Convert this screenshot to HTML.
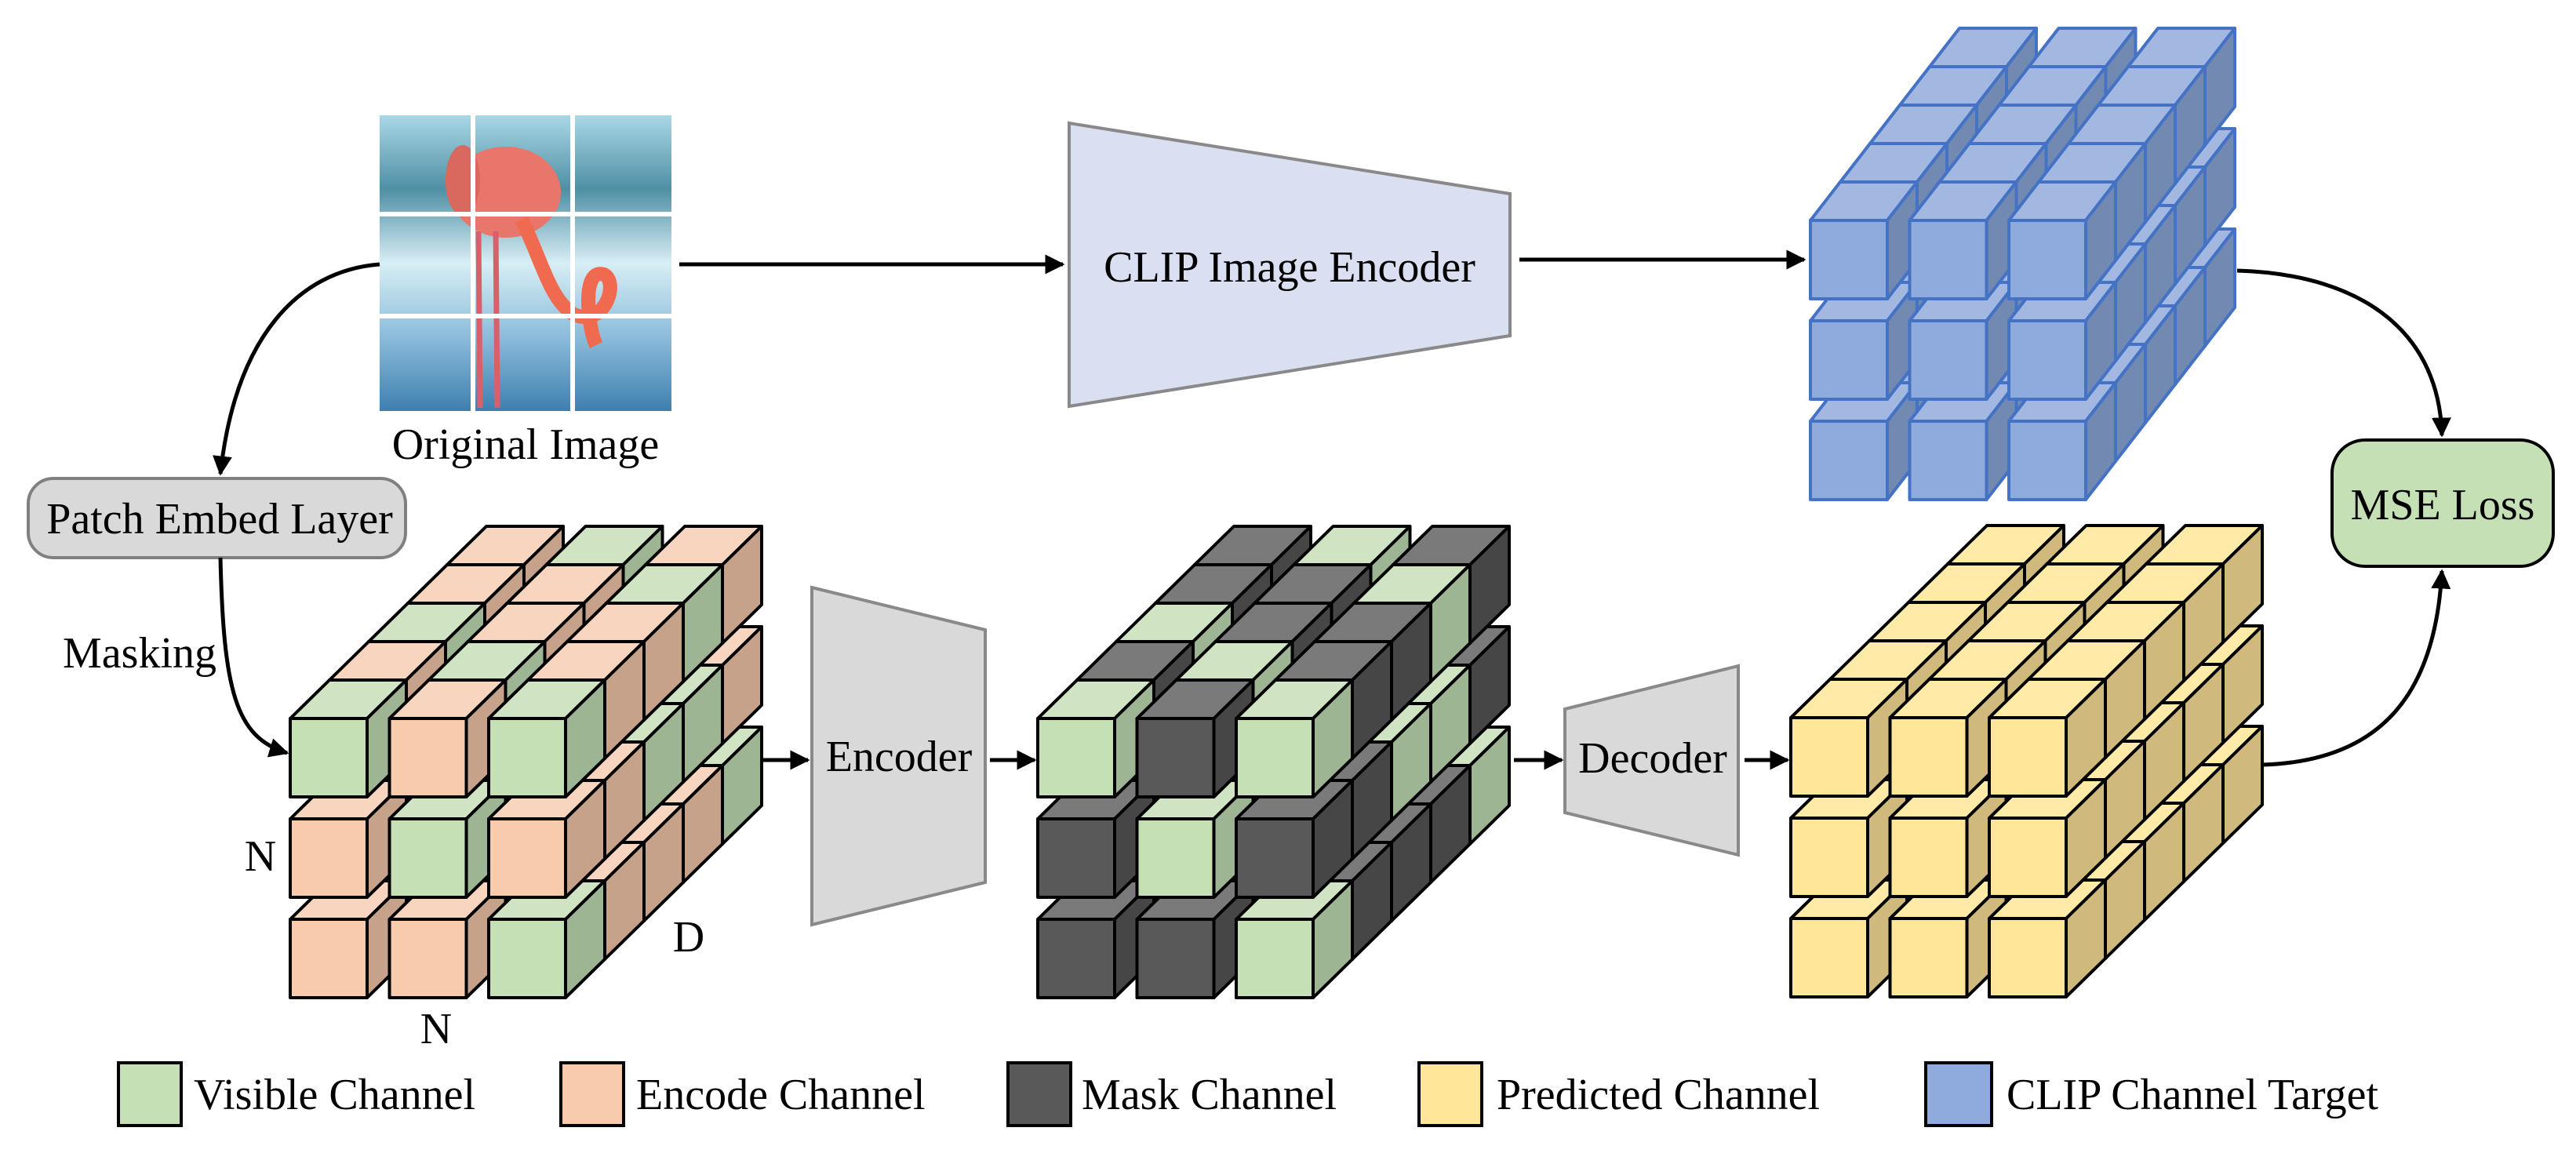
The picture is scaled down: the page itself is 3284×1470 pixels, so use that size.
<!DOCTYPE html>
<html><head><meta charset="utf-8">
<style>
html,body{margin:0;padding:0;background:#fff;}
svg{display:block;}
text{font-family:"Liberation Serif","DejaVu Serif",serif;fill:#000;}
</style></head>
<body>
<svg id="s" width="3284" height="1470" viewBox="0 0 3284 1470" xmlns="http://www.w3.org/2000/svg">
<defs>
<marker id="ah" viewBox="0 0 10 10" refX="9" refY="5" markerWidth="5" markerHeight="5" orient="auto" markerUnits="strokeWidth">
<path d="M0,0 L10,5 L0,10 z" fill="#000"/></marker>
<linearGradient id="water" x1="0" y1="0" x2="0" y2="1">
<stop offset="0" stop-color="#a9d8e6"/><stop offset="0.25" stop-color="#4f8fa5"/><stop offset="0.5" stop-color="#d8eef5"/><stop offset="0.75" stop-color="#8bbcda"/><stop offset="1" stop-color="#3f7fb0"/></linearGradient>
</defs>

<!-- Original image -->
<g>
<rect x="484" y="147" width="372" height="377" fill="url(#water)"/>
<ellipse cx="645" cy="245" rx="70" ry="58" fill="#e8766a"/>
<ellipse cx="590" cy="230" rx="22" ry="45" fill="#d9685e"/>
<path d="M610,295 L612,520 M632,295 L634,520" stroke="#d9606a" stroke-width="7"/>
<path d="M665,280 C690,330 700,380 730,400 C770,420 790,360 770,350 C740,340 750,420 760,440" stroke="#f06a50" stroke-width="18" fill="none"/>
<rect x="600" y="147" width="6" height="377" fill="#fff"/>
<rect x="727" y="147" width="6" height="377" fill="#fff"/>
<rect x="484" y="270" width="372" height="6" fill="#fff"/>
<rect x="484" y="400" width="372" height="6" fill="#fff"/>
</g>
<text x="670" y="585" font-size="56" text-anchor="middle">Original Image</text>

<!-- Patch Embed -->
<rect x="36" y="610" width="481" height="101" rx="32" fill="#d9d9d9" stroke="#808080" stroke-width="4"/>
<text x="280" y="680" font-size="56" text-anchor="middle">Patch Embed Layer</text>
<text x="178" y="851" font-size="56" text-anchor="middle">Masking</text>

<!-- connectors -->
<g stroke="#000" stroke-width="5" fill="none">
<path d="M484,337 C380,345 300,430 281,604" marker-end="url(#ah)"/>
<path d="M281,711 C285,880 300,940 366,960" marker-end="url(#ah)"/>
<path d="M866,337 L1355,337" marker-end="url(#ah)"/>
<path d="M1937,331 L2300,331" marker-end="url(#ah)"/>
<path d="M971,969 L1030,969" marker-end="url(#ah)"/>
<path d="M1262,969 L1319,969" marker-end="url(#ah)"/>
<path d="M1930,969 L1991,969" marker-end="url(#ah)"/>
<path d="M2224,969 L2279,969" marker-end="url(#ah)"/>
<path d="M2852,345 C3020,350 3110,430 3113,555" marker-end="url(#ah)"/>
<path d="M2885,975 C3040,970 3105,880 3113,728" marker-end="url(#ah)"/>
</g>

<!-- CLIP encoder -->
<polygon points="1363,157 1925,247 1925,428 1363,518" fill="#dae0f1" stroke="#898989" stroke-width="4"/>
<text x="1644" y="359" font-size="56" text-anchor="middle">CLIP Image Encoder</text>

<!-- Encoder -->
<polygon points="1035,749 1256,803 1256,1125 1035,1179" fill="#d9d9d9" stroke="#898989" stroke-width="4"/>
<text x="1146" y="983" font-size="56" text-anchor="middle">Encoder</text>

<!-- Decoder -->
<polygon points="1995,904 2216,849 2216,1090 1995,1036" fill="#d9d9d9" stroke="#898989" stroke-width="4"/>
<text x="2107" y="985" font-size="56" text-anchor="middle">Decoder</text>

<!-- MSE -->
<rect x="2973" y="561" width="282" height="161" rx="42" fill="#c5e0b4" stroke="#000" stroke-width="4"/>
<text x="3114" y="662" font-size="56" text-anchor="middle">MSE Loss</text>

<g id="cubes"></g>

<text x="332" y="1110" font-size="56" text-anchor="middle">N</text>
<text x="556" y="1330" font-size="56" text-anchor="middle">N</text>
<text x="878" y="1213" font-size="56" text-anchor="middle">D</text>

<!-- Legend -->
<g stroke="#000" stroke-width="4">
<rect x="151" y="1355" width="80" height="80" fill="#c5e0b4"/>
<rect x="715" y="1355" width="80" height="80" fill="#f8cbad"/>
<rect x="1285" y="1355" width="80" height="80" fill="#595959"/>
<rect x="1809" y="1355" width="80" height="80" fill="#ffe699"/>
<rect x="2455" y="1355" width="84" height="80" fill="#8faadc"/>
</g>
<g font-size="56">
<text x="247" y="1414">Visible Channel</text>
<text x="811" y="1414">Encode Channel</text>
<text x="1379" y="1414">Mask Channel</text>
<text x="1908" y="1414">Predicted Channel</text>
<text x="2558" y="1414">CLIP Channel Target</text>
</g>
</svg>
<script>
(function(){
var C={g:['#c5e0b4','#d0e4c4','#9db593','#000'],
o:['#f8cbad','#f8d5bf','#c7a28a','#000'],
m:['#595959','#7a7a7a','#464646','#000'],
y:['#ffe699','#ffeaa8','#cfb97c','#000'],
b:['#8faadc','#a3b8e1','#7289b1','#4472c4']};
var P=[
[['g','o','g'],['o','g','o'],['o','o','g']],
[['o','g','o'],['g','o','o'],['o','g','o']],
[['g','o','o'],['o','g','g'],['g','o','o']],
[['o','o','g'],['g','o','g'],['o','g','o']],
[['o','g','o'],['o','g','o'],['g','o','g']]];
var g=document.getElementById('cubes'),NS='http://www.w3.org/2000/svg';
function poly(pts,f,s){var p=document.createElementNS(NS,'polygon');p.setAttribute('points',pts.map(function(a){return a[0].toFixed(1)+','+a[1].toFixed(1)}).join(' '));p.setAttribute('fill',f);p.setAttribute('stroke',s);p.setAttribute('stroke-width','4');p.setAttribute('stroke-linejoin','round');g.appendChild(p);}
function cube(x,y,c,dx){var w=98,h=100,dy=-49,k=C[c];
poly([[x,y],[x+dx,y+dy],[x+w+dx,y+dy],[x+w,y]],k[1],k[3]);
poly([[x+w,y],[x+w+dx,y+dy],[x+w+dx,y+h+dy],[x+w,y+h]],k[2],k[3]);
poly([[x,y],[x+w,y],[x+w,y+h],[x,y+h]],k[0],k[3]);}
function block(x0,y0,map,dx){
for(var l=4;l>=0;l--)for(var r=2;r>=0;r--)for(var c=0;c<3;c++){
var t=P[l][r][c];var col=map(t);
cube(x0+c*126.5+l*dx,y0+r*128-l*49,col,dx);}}
block(2308,281,function(){return 'b'},38);
block(370,916,function(t){return t},50);
block(1323,916,function(t){return t=='o'?'m':'g'},50);
block(2283,915,function(){return 'y'},50);
})();
</script>
</body></html>
